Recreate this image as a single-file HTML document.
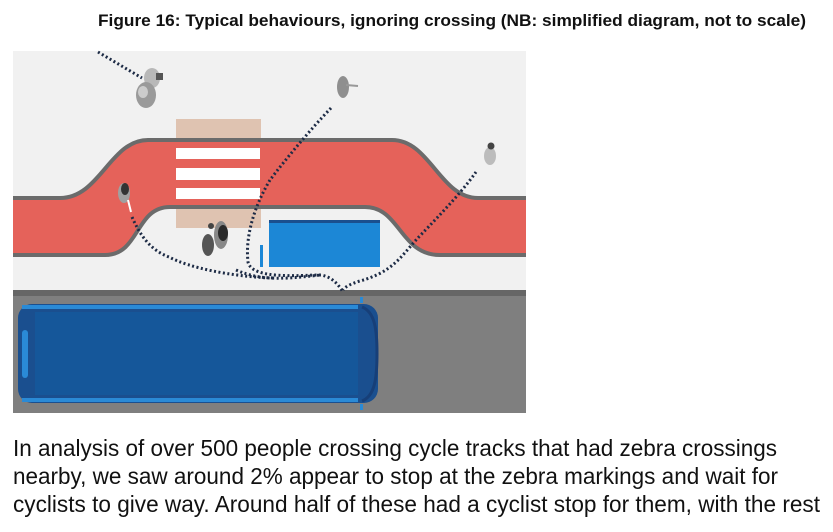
<!DOCTYPE html>
<html><head><meta charset="utf-8"><style>
html,body{margin:0;padding:0;background:#fff;width:833px;height:532px;overflow:hidden}
svg{display:block}
</style></head><body>
<svg width="833" height="532" viewBox="0 0 833 532" xmlns="http://www.w3.org/2000/svg">
<rect width="833" height="532" fill="#fff"/>
<text x="98" y="26" font-family="Liberation Sans, sans-serif" font-weight="bold" font-size="17" textLength="708" lengthAdjust="spacingAndGlyphs" fill="#111">Figure 16: Typical behaviours, ignoring crossing (NB: simplified diagram, not to scale)</text>

<rect x="13" y="51" width="513" height="240" fill="#f1f1f1"/>
<rect x="13" y="290" width="513" height="123" fill="#7f7f7f"/>
<rect x="13" y="290" width="513" height="6" fill="#666"/>

<rect x="176" y="119" width="85" height="109" fill="#dfc3b1"/>

<path d="M13,198 L60,198 C100,198 110,140 148,140 L392,140 C430,140 440,198 478,198 L526,198 L526,255 L440,255 C400,255 400,207 365,207 L170,207 C135,207 140,255 105,255 L13,255 Z" fill="#e5625a"/>
<path d="M13,198 L60,198 C100,198 110,140 148,140 L392,140 C430,140 440,198 478,198 L526,198" fill="none" stroke="#6b6b6b" stroke-width="4"/>
<path d="M13,255 L105,255 C140,255 135,207 170,207 L365,207 C400,207 400,255 440,255 L526,255" fill="none" stroke="#6b6b6b" stroke-width="4"/>
<rect x="176" y="209" width="85" height="19" fill="#dfc3b1"/>
<rect x="176" y="142" width="85" height="63" fill="#e5625a"/>
<rect x="176" y="148" width="84" height="11" fill="#fff"/>
<rect x="176" y="168" width="84" height="12" fill="#fff"/>
<rect x="176" y="188" width="84" height="11" fill="#fff"/>

<rect x="269" y="220" width="111" height="47" fill="#1c87d6"/>
<rect x="269" y="220" width="111" height="3" fill="#1a4f8f"/>
<rect x="260" y="245" width="3" height="22" fill="#1c87d6"/>

<rect x="18" y="304" width="360" height="99" rx="14" fill="#1a4f8f"/>
<rect x="22" y="305" width="336" height="4" fill="#2a8ad6"/>
<rect x="22" y="398" width="336" height="4" fill="#2a8ad6"/>
<rect x="35" y="312" width="323" height="83" fill="#15579a"/>
<rect x="22" y="330" width="6" height="48" rx="3" fill="#2a8ad6"/>
<path d="M362,307 C375,312 377,330 377,353 C377,378 375,396 362,401" fill="none" stroke="#173f78" stroke-width="3"/>
<rect x="360" y="297" width="3" height="6" fill="#2a8ad6"/>
<rect x="360" y="404" width="3" height="6" fill="#2a8ad6"/>

<g fill="none" stroke="#1d2b45" stroke-width="3" stroke-dasharray="2 2.5">
<path d="M98,52 L142,78"/>
<path d="M331,108 C310,130 285,160 270,180 C255,205 245,235 248,262 C252,280 300,275 321,275 C332,277 338,284 343,292"/>
<path d="M132,217 C140,235 150,250 169,257 C190,268 230,276 270,278 C290,279 310,276 321,275"/>
<path d="M476,172 C460,195 430,225 416,240 C400,258 392,272 360,281 C350,284 345,287 343,290"/>
<path d="M236,270 C250,276 262,278 275,278"/>
</g>

<g>
<ellipse cx="152" cy="78" rx="8" ry="10" fill="#b8b8b8"/>
<rect x="156" y="73" width="7" height="7" fill="#555"/>
<ellipse cx="146" cy="95" rx="10" ry="13" fill="#9a9a9a"/>
<ellipse cx="143" cy="92" rx="5" ry="6" fill="#ccc"/>
<ellipse cx="343" cy="87" rx="6" ry="11" fill="#8f8f8f"/>
<line x1="346" y1="85" x2="358" y2="86" stroke="#999" stroke-width="2"/>
<ellipse cx="490" cy="156" rx="6" ry="9" fill="#bcbcbc"/>
<circle cx="491" cy="146" r="3.5" fill="#444"/>
<ellipse cx="124" cy="193" rx="6" ry="10" fill="#a0a0a0"/>
<ellipse cx="125" cy="189" rx="4" ry="6" fill="#333"/>
<line x1="128" y1="200" x2="131" y2="212" stroke="#fff" stroke-width="2"/>
<ellipse cx="208" cy="245" rx="6" ry="11" fill="#555"/>
<ellipse cx="221" cy="235" rx="7" ry="14" fill="#888"/>
<ellipse cx="223" cy="233" rx="5" ry="8" fill="#2a2a2a"/>
<circle cx="211" cy="226" r="3" fill="#444"/>
</g>

<g font-family="Liberation Sans, sans-serif" font-size="23" fill="#111">
<text x="13" y="456" textLength="764" lengthAdjust="spacingAndGlyphs">In analysis of over 500 people crossing cycle tracks that had zebra crossings</text>
<text x="13" y="484" textLength="765" lengthAdjust="spacingAndGlyphs">nearby, we saw around 2% appear to stop at the zebra markings and wait for</text>
<text x="13" y="512" textLength="807" lengthAdjust="spacingAndGlyphs">cyclists to give way. Around half of these had a cyclist stop for them, with the rest</text>
</g>
</svg>
</body></html>
